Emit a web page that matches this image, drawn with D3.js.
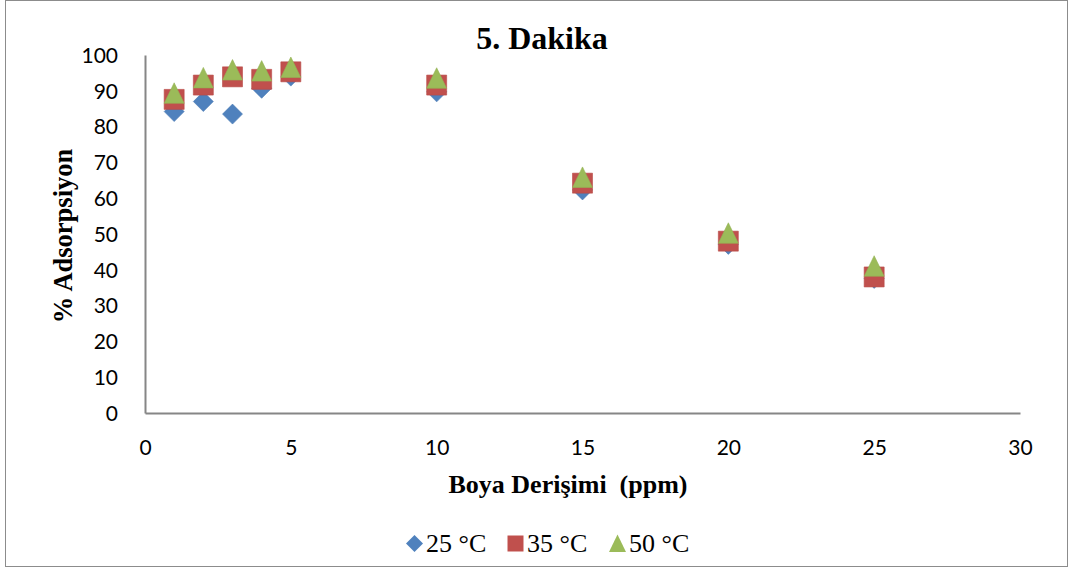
<!DOCTYPE html>
<html>
<head>
<meta charset="utf-8">
<script src="https://cdn.jsdelivr.net/npm/d3@7"></script>
<style>
  html, body { margin: 0; padding: 0; background: #fff; }
  svg { display: block; }
</style>
</head>
<body>
<svg id="chart" width="1073" height="570"></svg>
<script>
// Concentrations (ppm) and adsorption percentages at each temperature
const concentrations = [1, 2, 3, 4, 5, 10, 15, 20, 25];
const series25 = [84.2, 87.0, 83.5, 90.7, 94.1, 89.7, 62.3, 47.1, 37.6];
const series35 = [87.6, 91.6, 93.9, 93.2, 95.3, 91.6, 64.2, 48.0, 38.0];
const series50 = [89.3, 93.6, 95.8, 95.5, 96.5, 93.5, 65.8, 50.2, 41.0];
const seriesNames = ["25 °C", "35 °C", "50 °C"];
const xTicks = [0, 5, 10, 15, 20, 25, 30];
const yTicks = [0, 10, 20, 30, 40, 50, 60, 70, 80, 90, 100];

const svg = d3.select("#chart");
const serif = "'Liberation Serif', 'Times New Roman', serif";

// outer chart frame
svg.append("rect")
  .attr("x", 5.5).attr("y", 0.5)
  .attr("width", 1062).attr("height", 566)
  .attr("fill", "#fff").attr("stroke", "#8c8c8c").attr("stroke-width", 1);

const plot = { left: 145, right: 1020, top: 55, bottom: 413 };
const x = d3.scaleLinear().domain([0, 30]).range([plot.left, plot.right]);
const y = d3.scaleLinear().domain([0, 100]).range([plot.bottom, plot.top]);

// axes
const xAxis = svg.append("g")
  .attr("transform", `translate(0,${plot.bottom})`)
  .call(d3.axisBottom(x).tickValues(xTicks).tickSize(0).tickPadding(35));
const yAxis = svg.append("g")
  .attr("transform", `translate(${plot.left},0)`)
  .call(d3.axisLeft(y).tickValues(yTicks).tickSize(0).tickPadding(27));

[xAxis, yAxis].forEach(g => {
  g.select(".domain").attr("stroke", "#868686").attr("stroke-width", 2);
  g.selectAll("text")
    .attr("font-family", "Lato, 'Open Sans', sans-serif")
    .attr("font-size", 21).attr("fill", "#000");
});
yAxis.selectAll("text").attr("dy", "0.35em");
xAxis.selectAll("text").attr("dy", "0.35em");

// title and axis titles
svg.append("text")
  .attr("x", 542).attr("y", 49)
  .attr("text-anchor", "middle")
  .attr("font-family", serif)
  .attr("font-weight", "bold").attr("font-size", 32)
  .text("5. Dakika");

svg.append("text")
  .attr("x", 568).attr("y", 493)
  .attr("text-anchor", "middle")
  .attr("font-family", serif)
  .attr("font-weight", "bold").attr("font-size", 26)
  .attr("xml:space", "preserve")
  .text("Boya Derişimi  (ppm)");

svg.append("text")
  .attr("transform", "translate(72,236) rotate(-90)")
  .attr("text-anchor", "middle")
  .attr("font-family", serif)
  .attr("font-weight", "bold").attr("font-size", 26.5)
  .text("% Adsorpsiyon");

// marker shapes, sized by their bounding-box width
const diamond = { draw(ctx, s) { const h = s / 2; ctx.moveTo(0, -h); ctx.lineTo(h, 0); ctx.lineTo(0, h); ctx.lineTo(-h, 0); ctx.closePath(); } };
const square = { draw(ctx, s) { const h = s / 2; ctx.rect(-h, -h, s, s); } };
const triangle = { draw(ctx, s) { const h = s / 2; ctx.moveTo(0, -h - 0.5); ctx.lineTo(h, h); ctx.lineTo(-h, h); ctx.closePath(); } };

const colors = ["#4f81bd", "#c0504d", "#9bbb59"];
const strokes = ["#4a7ab4", "#b84a47", "#93b254"];
const types = [diamond, square, triangle];
const plotSizes = [20, 20, 20];
const legendSizes = [17, 16, 17];
const allSeries = [series25, series35, series50];

allSeries.forEach((vals, i) => {
  svg.append("g").selectAll("path")
    .data(concentrations.map((c, k) => ({ c, v: vals[k] })))
    .join("path")
    .attr("d", d3.symbol().type(types[i]).size(plotSizes[i]))
    .attr("transform", d => `translate(${x(d.c)},${y(d.v)})`)
    .attr("fill", colors[i])
    .attr("stroke", strokes[i]).attr("stroke-width", 0.6);
});

// legend
const legendItems = [
  { sx: 414.5, tx: 426 },
  { sx: 515.5, tx: 527 },
  { sx: 617.5, tx: 629 }
];
legendItems.forEach((it, i) => {
  svg.append("path")
    .attr("d", d3.symbol().type(types[i]).size(legendSizes[i]))
    .attr("transform", `translate(${it.sx},543.5)`)
    .attr("fill", colors[i]);
  svg.append("text")
    .attr("x", it.tx).attr("y", 552)
    .attr("font-family", serif)
    .attr("font-size", 26)
    .text(seriesNames[i]);
});
</script>
</body>
</html>
